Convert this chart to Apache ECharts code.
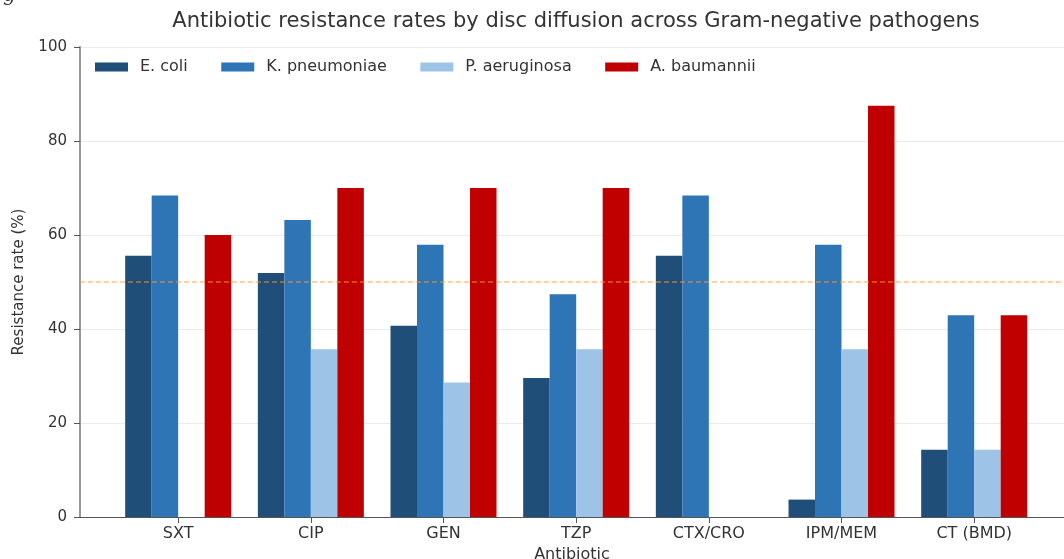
<!DOCTYPE html>
<html>
<head>
<meta charset="utf-8">
<script src="https://cdn.jsdelivr.net/npm/echarts@6/dist/echarts.min.js"></script>
<style>
html,body{margin:0;padding:0;background:#fff;}
#chart{width:1064px;height:559px;}
</style>
</head>
<body>
<div id="chart"></div>
<script>
const categories = ['SXT', 'CIP', 'GEN', 'TZP', 'CTX/CRO', 'IPM/MEM', 'CT (BMD)'];
const seriesNames = ['E. coli', 'K. pneumoniae', 'P. aeruginosa', 'A. baumannii'];
const ecoli = [55.6, 51.9, 40.7, 29.6, 55.6, 3.7, 14.3];
const kpneumoniae = [68.4, 63.2, 57.9, 47.4, 68.4, 57.9, 42.9];
const paeruginosa = [0, 35.7, 28.6, 35.7, 0, 35.7, 14.3];
const abaumannii = [60.0, 70.0, 70.0, 70.0, 0, 87.5, 42.9];
const yTicks = [0, 20, 40, 60, 80, 100];
const threshold = 50;

const seriesValues = [ecoli, kpneumoniae, paeruginosa, abaumannii];
const colors = ['#1f4e79', '#2e75b6', '#9dc3e6', '#c00000'];
const FONT = 'DejaVu Sans';

const chart = echarts.init(document.getElementById('chart'), null, {renderer: 'canvas'});

const series = seriesValues.map((vals, k) => ({
  name: seriesNames[k],
  type: 'bar',
  barWidth: 26.5,
  barGap: '0%',
  itemStyle: {color: colors[k], borderWidth: 0},
  data: vals.map((v, i) => [i, v]),
  z: 2
}));
series.push({
  type: 'line',
  data: [],
  z: 5,
  silent: true,
  markLine: {
    silent: true,
    symbol: ['none', 'none'],
    label: {show: false},
    lineStyle: {color: '#ff9a2e', opacity: 0.6, width: 1.5, type: [5, 3]},
    data: [{yAxis: threshold}]
  }
});

const catIdx = categories.map((c, i) => i);

chart.setOption({
  animation: false,
  backgroundColor: '#fff',
  textStyle: {fontFamily: FONT},
  graphic: [
    {type: 'text', x: 576, y: 22, style: {text: 'Antibiotic resistance rates by disc diffusion across Gram-negative pathogens', font: '21px "DejaVu Sans"', fill: '#333', textAlign: 'center', textVerticalAlign: 'middle'}},
    {type: 'text', x: 3, y: -14, style: {text: 'g', font: 'italic 20px "DejaVu Serif"', fill: '#333'}}
  ],
  legend: {
    left: 95, top: 59, padding: 0,
    itemWidth: 33, itemHeight: 9, itemGap: 33.5,
    icon: 'rect',
    textStyle: {fontSize: 16, color: '#333', fontFamily: FONT, padding: [0, 0, 0, 7]},
    data: seriesNames
  },
  grid: {left: 80, right: 0, top: 47, bottom: 42, containLabel: false, outerBoundsMode: 'none'},
  xAxis: {
    type: 'value',
    min: -0.74, max: 6.677,
    splitLine: {show: false},
    axisLine: {show: true, onZero: false, lineStyle: {color: '#555', width: 1}},
    axisTick: {show: true, customValues: catIdx, length: 6, lineStyle: {color: '#555', width: 1}},
    axisLabel: {customValues: catIdx, formatter: v => categories[Math.round(v)], fontSize: 16, color: '#333', margin: 9, fontFamily: FONT},
    name: 'Antibiotic', nameLocation: 'middle', nameGap: 30,
    nameTextStyle: {fontSize: 16, color: '#333', fontFamily: FONT}
  },
  yAxis: {
    type: 'value', min: 0, max: 100, interval: 20,
    axisLine: {show: true, onZero: false, lineStyle: {color: '#999', width: 2}},
    axisTick: {show: true, length: 6, lineStyle: {color: '#555', width: 1}},
    axisLabel: {fontSize: 15, color: '#333', margin: 13, fontFamily: FONT, formatter: v => yTicks.includes(v) ? String(v) : ''},
    splitLine: {show: true, lineStyle: {color: '#ebebeb', width: 1}},
    name: 'Resistance rate (%)', nameLocation: 'middle', nameGap: 53, nameRotate: 90,
    nameTextStyle: {fontSize: 15, color: '#333', fontFamily: FONT}
  },
  series: series
});
</script>
</body>
</html>
